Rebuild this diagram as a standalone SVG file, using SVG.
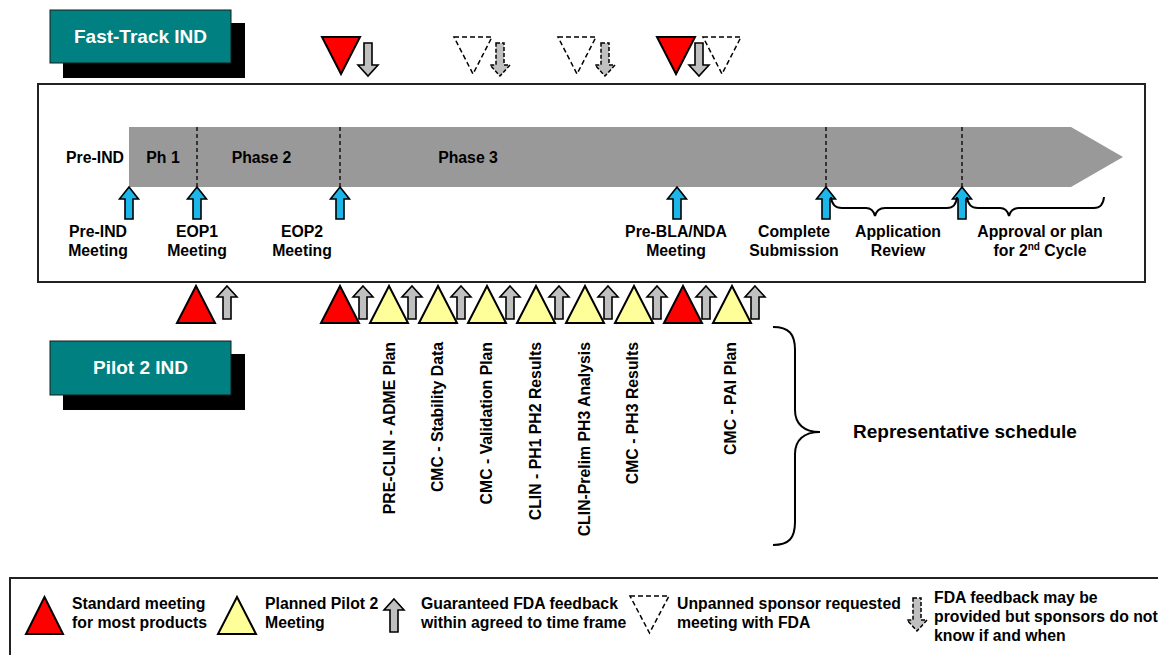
<svg xmlns="http://www.w3.org/2000/svg" width="1158" height="655" viewBox="0 0 1158 655">
<style>
text{font-family:"Liberation Sans",Arial,sans-serif;font-weight:bold;fill:#000;font-size:15.8px}
.title{fill:#fff;font-size:19px}
.c{text-anchor:middle}
.teal{fill:#008080;stroke:#1a1a1a;stroke-width:1}
.shadow{fill:#000}
.red{fill:#ff0000;stroke:#000;stroke-width:2;stroke-linejoin:miter}
.yel{fill:#ffff99;stroke:#000;stroke-width:2}
.dash{fill:#fff;stroke:#000;stroke-width:1.5;stroke-dasharray:5,3}
.garr{fill:#c0c0c0;stroke:#000;stroke-width:1.6}
.garrd{fill:#c0c0c0;stroke:#000;stroke-width:1.5;stroke-dasharray:4,2}
.barr{fill:#1bb7ea;stroke:#000;stroke-width:1.6}
.vl{stroke:#000;stroke-width:1.3;stroke-dasharray:4,3}
.brace{fill:none;stroke:#000;stroke-width:2}
.rep{font-size:19px}
</style>
<defs>
<path id="up" d="M0,0 L10,11 L4,11 L4,33 L-4,33 L-4,11 L-10,11 Z"/>
<path id="down" d="M-4,0 L4,0 L4,22 L10,22 L0,33 L-10,22 L-4,22 Z"/>
<path id="blue" d="M0,0 L9.5,12 L4,12 L4,32 L-4,32 L-4,12 L-9.5,12 Z"/>
<path id="tri" d="M0,37 L38,37 L19,0 Z"/>
</defs>

<g id="fast-track-ind">
<rect class="shadow" x="63" y="23" width="182" height="55"/>
<rect class="teal" x="50" y="10" width="181" height="53"/>
<text class="title c" x="140.5" y="43">Fast-Track IND</text>
</g>

<g id="pilot2-ind">
<rect class="shadow" x="63" y="354" width="182" height="56"/>
<rect class="teal" x="50" y="341" width="181" height="54"/>
<text class="title c" x="140.5" y="374">Pilot 2 IND</text>
</g>

<g id="top-markers">
<polygon class="red" points="322,37 360,37 341,74"/>
<use href="#down" class="garr" x="368" y="43"/>
<polygon class="dash" points="454,37 492,37 473,74"/>
<use href="#down" class="garrd" x="500" y="43"/>
<polygon class="dash" points="558,37 596,37 577,74"/>
<use href="#down" class="garrd" x="605" y="43"/>
<polygon class="red" points="657,37 695,37 676,74"/>
<use href="#down" class="garr" x="699" y="43"/>
<polygon class="dash" points="703,37 741,37 722,74"/>
</g>

<g id="timeline">
<rect x="38" y="84" width="1107" height="198" fill="#fff" stroke="#222" stroke-width="2"/>
<polygon points="129,127 1071,127 1123,157 1071,187 129,187" fill="#999"/>
<text class="c" x="95" y="162.5">Pre-IND</text>
<text class="c" x="163" y="162.5">Ph 1</text>
<text class="c" x="261.5" y="162.5">Phase 2</text>
<text class="c" x="468" y="162.5">Phase 3</text>
</g>

<g id="connectors">
<line class="vl" x1="197" y1="127" x2="197" y2="187"/>
<line class="vl" x1="340" y1="127" x2="340" y2="187"/>
<line class="vl" x1="826" y1="127" x2="826" y2="187"/>
<line class="vl" x1="962" y1="127" x2="962" y2="187"/>
<use href="#blue" class="barr" x="129" y="187"/>
<use href="#blue" class="barr" x="197" y="187"/>
<use href="#blue" class="barr" x="340" y="187"/>
<use href="#blue" class="barr" x="677" y="187"/>
<use href="#blue" class="barr" x="826" y="187"/>
<use href="#blue" class="barr" x="962" y="187"/>
<path class="brace" d="M831,197 Q832,208 842,208 L866,208 Q873,208 875,216 Q877,208 885,208 L947,208 Q956,208 957,197"/>
<path class="brace" d="M967,197 Q968,208 978,208 L1000,208 Q1007,208 1009,216 Q1011,208 1019,208 L1094,208 Q1103,208 1104,197"/>
<path class="brace" d="M773,327 C789,327 795,334 795,350 L795,410 C795,424 804,432 820,432 C804,432 795,440 795,454 L795,522 C795,538 789,545 773,545"/>
</g>

<g id="milestone-labels">
<text class="c" x="98" y="237">Pre-IND</text>
<text class="c" x="98" y="256">Meeting</text>
<text class="c" x="197" y="237">EOP1</text>
<text class="c" x="197" y="256">Meeting</text>
<text class="c" x="302" y="237">EOP2</text>
<text class="c" x="302" y="256">Meeting</text>
<text class="c" x="676" y="237">Pre-BLA/NDA</text>
<text class="c" x="676" y="256">Meeting</text>
<text class="c" x="794" y="237">Complete</text>
<text class="c" x="794" y="256">Submission</text>
<text class="c" x="898" y="237">Application</text>
<text class="c" x="898" y="256">Review</text>
<text class="c" x="1040" y="237">Approval or plan</text>
<text class="c" x="1040" y="256">for 2<tspan font-size="10" dy="-6">nd</tspan><tspan dy="6"> Cycle</tspan></text>
</g>

<g id="bottom-markers">
<polygon class="red" points="177,323 215,323 196,286"/>
<use href="#up" class="garr" x="227" y="286"/>
<use href="#tri" class="red" x="321" y="286"/>
<use href="#tri" class="yel" x="370" y="286"/>
<use href="#tri" class="yel" x="419" y="286"/>
<use href="#tri" class="yel" x="468" y="286"/>
<use href="#tri" class="yel" x="517" y="286"/>
<use href="#tri" class="yel" x="566" y="286"/>
<use href="#tri" class="yel" x="615" y="286"/>
<use href="#tri" class="red" x="664" y="286"/>
<use href="#tri" class="yel" x="713" y="286"/>
<use href="#up" class="garr" x="363" y="286"/>
<use href="#up" class="garr" x="412" y="286"/>
<use href="#up" class="garr" x="461" y="286"/>
<use href="#up" class="garr" x="510" y="286"/>
<use href="#up" class="garr" x="559" y="286"/>
<use href="#up" class="garr" x="608" y="286"/>
<use href="#up" class="garr" x="657" y="286"/>
<use href="#up" class="garr" x="706" y="286"/>
<use href="#up" class="garr" x="755" y="286"/>
</g>

<g id="pilot-meeting-labels">
<text text-anchor="end" transform="translate(394.5,342) rotate(-90)">PRE-CLIN - ADME Plan</text>
<text text-anchor="end" transform="translate(443,342) rotate(-90)">CMC - Stability Data</text>
<text text-anchor="end" transform="translate(491.5,342) rotate(-90)">CMC - Validation Plan</text>
<text text-anchor="end" transform="translate(541,342) rotate(-90)">CLIN - PH1  PH2 Results</text>
<text text-anchor="end" transform="translate(590,342) rotate(-90)">CLIN-Prelim PH3 Analysis</text>
<text text-anchor="end" transform="translate(638,342) rotate(-90)">CMC - PH3 Results</text>
<text text-anchor="end" transform="translate(736,342) rotate(-90)">CMC - PAI Plan</text>
<text class="rep" x="853" y="438">Representative schedule</text>
</g>

<g id="legend">
<rect x="10" y="578" width="1160" height="90" fill="#fff" stroke="#222" stroke-width="2"/>
<polygon class="red" points="26,634 63,634 44.5,597"/>
<text x="72" y="609">Standard meeting</text>
<text x="72" y="628">for most products</text>
<polygon class="yel" points="218,634 256,634 237,597"/>
<text x="265" y="609">Planned Pilot 2</text>
<text x="265" y="628">Meeting</text>
<use href="#up" class="garr" x="394" y="599"/>
<text x="421" y="609">Guaranteed FDA feedback</text>
<text x="421" y="628">within agreed to time frame</text>
<polygon class="dash" points="630,596 669,596 649.5,633"/>
<text x="677" y="609">Unpanned sponsor requested</text>
<text x="677" y="628">meeting with FDA</text>
<use href="#down" class="garrd" x="917" y="598"/>
<text x="934" y="603">FDA feedback may be</text>
<text x="934" y="622">provided but sponsors do not</text>
<text x="934" y="641">know if and when</text>
</g>
</svg>
